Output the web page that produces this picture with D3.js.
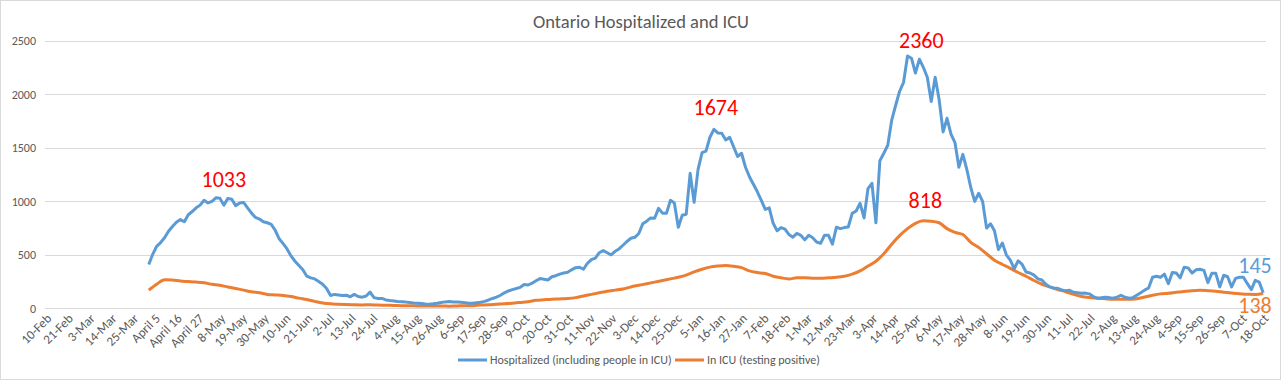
<!DOCTYPE html>
<html>
<head>
<meta charset="utf-8">
<script src="https://cdn.jsdelivr.net/npm/d3@7"></script>
<style>
  body { margin: 0; background: #fff; }
  svg { display: block; font-family: Calibri, Carlito, Lato, sans-serif; }
</style>
</head>
<body>
<svg id="canvas"></svg>
<script>
const width = 1281;
const height = 380;

// category axis: every 11 days from 10-Feb-2020
const axisStart = "2020-02-10";
const axisEnd = "2021-10-18";
const tickLabels = ["10-Feb", "21-Feb", "3-Mar", "14-Mar", "25-Mar", "April 5", "April 16", "April 27",
  "8-May", "19-May", "30-May", "10-Jun", "21-Jun", "2-Jul", "13-Jul", "24-Jul", "4-Aug", "15-Aug",
  "26-Aug", "6-Sep", "17-Sep", "28-Sep", "9-Oct", "20-Oct", "31-Oct", "11-Nov", "22-Nov", "3-Dec",
  "14-Dec", "25-Dec", "5-Jan", "16-Jan", "27-Jan", "7-Feb", "18-Feb", "1-Mar", "12-Mar", "23-Mar",
  "3-Apr", "14-Apr", "25-Apr", "6-May", "17-May", "28-May", "8-Jun", "19-Jun", "30-Jun", "11-Jul",
  "22-Jul", "2-Aug", "13-Aug", "24-Aug", "4-Sep", "15-Sep", "26-Sep", "7-Oct", "18-Oct"];
const yTicks = [0, 500, 1000, 1500, 2000, 2500];

// Hospitalized (including people in ICU): every 2 days from 2-Apr-2020
const hospStart = "2020-04-02";
const hospStep = 2;
const hospitalized = [
  410, 505, 580, 615, 660, 720, 765, 805, 830, 810,
  875, 905, 940, 965, 1010, 985, 1000, 1033, 1030, 965,
  1028, 1020, 960, 985, 990, 940, 890, 850, 835, 810,
  800, 785, 730, 650, 605, 555, 490, 440, 400, 360,
  300, 285, 275, 250, 225, 185, 120, 130, 125, 120,
  122, 108, 130, 110, 104, 115, 152, 100, 92, 92,
  78, 72, 68, 64, 62, 58, 55, 50, 47, 44,
  40, 38, 42, 47, 55, 60, 63, 60, 58, 56,
  52, 48, 48, 52, 56, 65, 78, 92, 105, 122,
  145, 162, 175, 185, 196, 222, 218, 235, 258, 278,
  272, 265, 295, 305, 320, 330, 337, 360, 380, 384,
  365, 421, 455, 470, 520, 540, 520, 500, 533, 555,
  590, 625, 655, 664, 700, 790, 815, 845, 842, 935,
  890, 888, 1010, 985, 758, 870, 880, 1262, 991, 1300,
  1455, 1470, 1600, 1674, 1640, 1637, 1575, 1600, 1510, 1420,
  1450, 1319, 1230, 1160, 1090, 1010, 925, 940, 795, 725,
  755, 740, 690, 665, 700, 683, 640, 683, 660, 620,
  608, 683, 683, 600, 758, 745, 755, 760, 888, 910,
  982, 845, 1120, 1169, 800, 1380, 1450, 1525, 1760, 1899,
  2030, 2114, 2360, 2339, 2200, 2330, 2254, 2161, 1935, 2161,
  1950, 1650, 1777, 1630, 1550, 1320, 1440, 1300, 1130, 1000,
  1076, 1000, 750, 790, 725, 550, 610, 500, 450, 370,
  445, 410, 340, 330, 310, 275, 265, 225, 200, 190,
  187, 172, 165, 168, 150, 145, 140, 142, 135, 110,
  95, 98, 103, 100, 94, 105, 122, 105, 94, 100,
  122, 145, 170, 190, 290, 300, 290, 320, 230, 335,
  330, 285, 384, 378, 330, 360, 365, 355, 240, 327,
  327, 200, 309, 295, 200, 280, 290, 290, 230, 175,
  262, 245, 145
];

// In ICU (testing positive): every 4 days from 2-Apr-2020
const icuStart = "2020-04-02";
const icuStep = 4;
const inICU = [
  170, 225, 268, 265, 255, 250, 245, 238, 225, 215,
  200, 185, 170, 155, 145, 130, 125, 120, 110, 95,
  82, 65, 50, 42, 38, 35, 33, 32, 33, 30,
  28, 27, 25, 24, 22, 22, 21, 22, 20, 22,
  24, 25, 30, 33, 38, 42, 48, 55, 62, 75,
  80, 85, 88, 92, 100, 115, 130, 145, 160, 170,
  180, 200, 215, 230, 245, 260, 275, 290, 310, 340,
  365, 385, 395, 400, 393, 380, 350, 335, 325, 300,
  285, 275, 285, 285, 282, 280, 285, 290, 300, 320,
  350, 395, 440, 510, 600, 680, 745, 795, 818, 815,
  800, 745, 710, 690, 617, 570, 510, 450, 410, 374,
  335, 300, 260, 225, 200, 175, 155, 130, 110, 100,
  95, 90, 85, 85, 85, 90, 105, 122, 135, 140,
  150, 158, 165, 168, 165, 160, 150, 142, 135, 132,
  130, 138
];

// red call-outs: date the label is centred on, value
const peakDates = ["2020-05-10", "2021-01-14", "2021-04-28", "2021-04-30"];
const peakValues = [1033, 1674, 2360, 818];

const parse = d3.timeParse("%Y-%m-%d");
const blue = "#5b9bd5";
const orange = "#ed7d31";
const textGray = "#595959";

const svg = d3.select("#canvas")
  .attr("width", width)
  .attr("height", height);

svg.append("rect")
  .attr("x", 0.5).attr("y", 0.5)
  .attr("width", width - 1).attr("height", height - 1)
  .attr("fill", "#fff").attr("stroke", "#d9d9d9");

const x = d3.scaleTime()
  .domain([parse(axisStart), parse(axisEnd)])
  .range([46, 1263.2]);

const y = d3.scaleLinear()
  .domain([0, 2500])
  .range([308.3, 41]);

// gridlines + y labels
svg.append("g").selectAll("line")
  .data(yTicks)
  .join("line")
  .attr("x1", 45).attr("x2", 1266)
  .attr("y1", d => Math.round(y(d)) + 0.5)
  .attr("y2", d => Math.round(y(d)) + 0.5)
  .attr("stroke", "#d9d9d9")
  .attr("stroke-width", 1);

svg.append("g").selectAll("text")
  .data(yTicks)
  .join("text")
  .attr("x", 36)
  .attr("y", d => y(d))
  .attr("dy", "0.35em")
  .attr("text-anchor", "end")
  .attr("font-size", 12)
  .attr("fill", textGray)
  .text(d => d);

// x tick labels
svg.append("g").selectAll("text")
  .data(tickLabels)
  .join("text")
  .attr("transform", (d, i) => {
    const px = x(d3.timeDay.offset(parse(axisStart), i * 11)) + 3;
    return `translate(${px},316) rotate(-45)`;
  })
  .attr("text-anchor", "end")
  .attr("dy", "0.35em")
  .attr("font-size", 13)
  .attr("fill", textGray)
  .text(d => d);

// series
const hospData = hospitalized.map((v, i) => [d3.timeDay.offset(parse(hospStart), i * hospStep), v]);
const icuData = inICU.map((v, i) => [d3.timeDay.offset(parse(icuStart), i * icuStep), v]);

const line = d3.line()
  .x(d => x(d[0]))
  .y(d => y(d[1]));

svg.append("path")
  .datum(icuData)
  .attr("d", line.curve(d3.curveMonotoneX))
  .attr("fill", "none")
  .attr("stroke", orange)
  .attr("stroke-width", 3)
  .attr("stroke-linejoin", "round");

svg.append("path")
  .datum(hospData)
  .attr("d", line.curve(d3.curveLinear))
  .attr("fill", "none")
  .attr("stroke", blue)
  .attr("stroke-width", 3)
  .attr("stroke-linejoin", "round");

// title
svg.append("text")
  .attr("x", 641).attr("y", 28)
  .attr("text-anchor", "middle")
  .attr("font-size", 18.5)
  .attr("fill", textGray)
  .text("Ontario Hospitalized and ICU");

// red peak labels
const peakGap = [11, 14, 8, 13];
svg.append("g").selectAll("text")
  .data(peakValues)
  .join("text")
  .attr("x", (d, i) => x(parse(peakDates[i])))
  .attr("y", (d, i) => y(d) - peakGap[i])
  .attr("text-anchor", "middle")
  .attr("font-size", 22)
  .attr("fill", "#ff0000")
  .text(d => d);

// last values
const lastHosp = hospData[hospData.length - 1];
const lastIcu = icuData[icuData.length - 1];
svg.append("text")
  .attr("x", 1255).attr("y", y(lastHosp[1]) - 20)
  .attr("text-anchor", "middle")
  .attr("font-size", 22)
  .attr("fill", blue)
  .text(lastHosp[1]);
svg.append("text")
  .attr("x", 1255).attr("y", y(lastIcu[1]) + 19.5)
  .attr("text-anchor", "middle")
  .attr("font-size", 22)
  .attr("fill", orange)
  .text(lastIcu[1]);

// legend
const legend = [
  { name: "Hospitalized (including people in ICU)", color: blue, x: 458 },
  { name: "In ICU (testing positive)", color: orange, x: 675 }
];
const lg = svg.append("g").selectAll("g")
  .data(legend)
  .join("g")
  .attr("transform", d => `translate(${d.x},360)`);
lg.append("line")
  .attr("x1", 0).attr("x2", 29)
  .attr("stroke", d => d.color)
  .attr("stroke-width", 3);
lg.append("text")
  .attr("x", 32)
  .attr("dy", "0.35em")
  .attr("font-size", 12)
  .attr("fill", textGray)
  .text(d => d.name);
</script>
</body>
</html>
